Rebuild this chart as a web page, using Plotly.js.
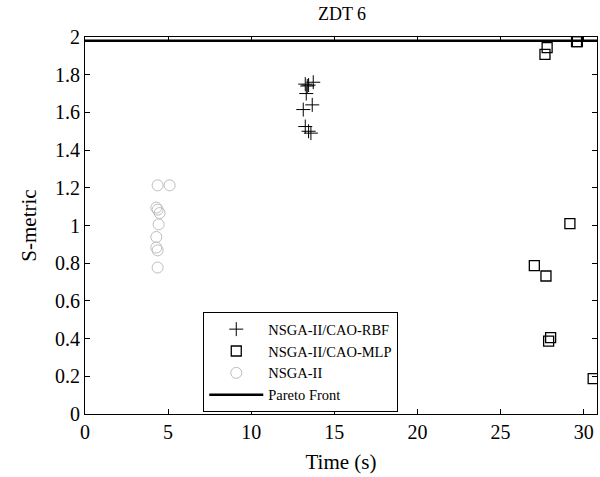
<!DOCTYPE html>
<html>
<head>
<meta charset="utf-8">
<script src="https://cdn.plot.ly/plotly-3.0.1.min.js"></script>
<style>html,body{margin:0;padding:0;background:#fff;}#chart{width:600px;height:477px;}</style>
</head>
<body>
<div id="chart"></div>
<script>
// NSGA-II/CAO-RBF (plus markers)
const rbfTime = [13.73, 13.25, 13.37, 13.45, 13.31, 13.67, 13.13, 13.25, 13.45, 13.59];
const rbfS    = [1.76, 1.75, 1.74, 1.745, 1.70, 1.64, 1.615, 1.525, 1.50, 1.49];
// NSGA-II/CAO-MLP (square markers)
const mlpTime = [29.57, 29.62, 27.80, 27.67, 29.17, 27.03, 27.73, 28.01, 27.89, 30.57];
const mlpS    = [1.975, 1.975, 1.944, 1.908, 1.01, 0.787, 0.732, 0.405, 0.387, 0.188];
// NSGA-II (circle markers)
const nsgaTime = [4.37, 5.09, 4.29, 4.37, 4.49, 4.43, 4.29, 4.29, 4.37, 4.37];
const nsgaS    = [1.213, 1.213, 1.095, 1.084, 1.066, 1.006, 0.939, 0.883, 0.868, 0.777];
// Pareto front
const paretoTime = [0, 30.8];
const paretoS    = [1.98, 1.98];
const xTicks = [0, 5, 10, 15, 20, 25, 30];
const yTicks = [0, 0.2, 0.4, 0.6, 0.8, 1, 1.2, 1.4, 1.6, 1.8, 2];
const yTickText = ['0','0.2','0.4','0.6','0.8','1','1.2','1.4','1.6','1.8','2'];

const serif = 'Liberation Serif, Times New Roman, serif';

const traces = [
  {x: rbfTime, y: rbfS, mode: 'markers', type: 'scatter', name: 'NSGA-II/CAO-RBF',
   marker: {symbol: 'cross-thin-open', size: 10, line: {color: '#000', width: 1}, color: '#000'}},
  {x: mlpTime, y: mlpS, mode: 'markers', type: 'scatter', name: 'NSGA-II/CAO-MLP',
   marker: {symbol: 'square-open', size: 10, color: '#000', line: {width: 1.3}}},
  {x: nsgaTime, y: nsgaS, mode: 'markers', type: 'scatter', name: 'NSGA-II',
   marker: {symbol: 'circle-open', size: 11, color: '#bdbdbd', line: {width: 1}}},
  {x: paretoTime, y: paretoS, mode: 'lines', type: 'scatter', name: 'Pareto Front',
   line: {color: '#000', width: 2.5}}
];

const axisCommon = {
  showgrid: false, zeroline: false, showline: true, linecolor: '#000', linewidth: 1,
  mirror: 'ticks', ticks: 'inside', ticklen: 5, tickcolor: '#000', tickwidth: 1,
  tickfont: {family: serif, size: 20, color: '#000'}
};

const layout = {
  width: 600, height: 477,
  margin: {l: 85, r: 3, t: 37, b: 63},
  paper_bgcolor: '#fff', plot_bgcolor: '#fff',
  font: {family: serif, color: '#000'},
  title: {text: 'ZDT 6', font: {family: serif, size: 18, color: '#000'}, x: 0.57, xanchor: 'center', y: 0.972, yanchor: 'middle'},
  xaxis: Object.assign({}, axisCommon, {
    range: [0, 30.8], tickvals: xTicks,
    title: {text: 'Time (s)', font: {family: serif, size: 21, color: '#000'}, standoff: 12}
  }),
  yaxis: Object.assign({}, axisCommon, {
    range: [0, 2], tickvals: yTicks, ticktext: yTickText,
    title: {text: 'S-metric', font: {family: serif, size: 21, color: '#000'}, standoff: 12}
  }),
  showlegend: true,
  legend: {
    x: 0.231, y: 0.27, xanchor: 'left', yanchor: 'top',
    bgcolor: '#fff', bordercolor: '#000', borderwidth: 1,
    font: {family: serif, size: 14.5, color: '#000'},
    itemwidth: 54, tracegroupgap: 0
  }
};

Plotly.newPlot('chart', traces, layout, {displayModeBar: false, staticPlot: true});
</script>
</body>
</html>
